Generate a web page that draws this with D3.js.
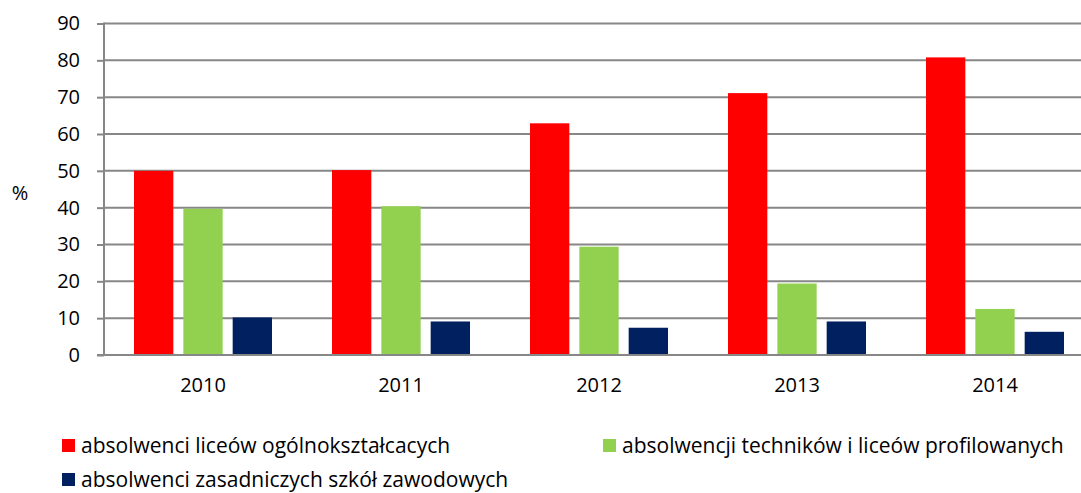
<!DOCTYPE html>
<html>
<head>
<meta charset="utf-8">
<script src="https://cdn.jsdelivr.net/npm/d3@7"></script>
<style>
  html, body { margin: 0; padding: 0; background: #fff; }
  svg { display: block; }
  text { font-family: "Open Sans", sans-serif; fill: #000; }
</style>
</head>
<body>
<svg id="chart" width="1081" height="493"></svg>
<script>
const years = ["2010", "2011", "2012", "2013", "2014"];
const seriesNames = [
  "absolwenci liceów ogólnokształcacych",
  "absolwencji techników i liceów profilowanych",
  "absolwenci zasadniczych szkół zawodowych"
];
const liceaValues = [50.0, 50.2, 62.9, 71.1, 80.8];
const technikaValues = [39.7, 40.4, 29.4, 19.4, 12.5];
const zawodoweValues = [10.2, 9.1, 7.4, 9.1, 6.3];
const yTicks = [0, 10, 20, 30, 40, 50, 60, 70, 80, 90];
const yLabel = "%";

const colors = ["#FF0000", "#92D050", "#002060"];
const seriesValues = [liceaValues, technikaValues, zawodoweValues];

const svg = d3.select("#chart");
const mLeft = 104, mRight = 1094, mTop = 23.5, mBottom = 355;
const axisFont = 20, legendFont = 21;

const x0 = d3.scaleBand().domain(years).range([mLeft, mRight]).padding(0);
const x1 = d3.scaleBand().domain(d3.range(seriesNames.length))
  .range([30, 168]).paddingInner(0.203).paddingOuter(0);
const y = d3.scaleLinear().domain([0, 90]).range([mBottom, mTop]);

// ticks + labels
const yAxis = d3.axisLeft(y).tickValues(yTicks).tickSize(7).tickPadding(17);
const gy = svg.append("g").attr("transform", `translate(${mLeft},0)`).call(yAxis);
gy.select(".domain").remove();
gy.selectAll(".tick line").attr("stroke", "#878787").attr("stroke-width", 2);
gy.selectAll(".tick text").attr("font-size", axisFont).attr("fill", "#000")
  .attr("font-family", "'Open Sans', sans-serif");

// gridlines
svg.append("g").selectAll("line").data(yTicks).join("line")
  .attr("x1", mLeft).attr("x2", mRight)
  .attr("y1", d => y(d)).attr("y2", d => y(d))
  .attr("stroke", "#878787").attr("stroke-width", 2);

// y axis line
svg.append("line").attr("x1", mLeft).attr("x2", mLeft)
  .attr("y1", y(90) - 1).attr("y2", y(0) + 1)
  .attr("stroke", "#878787").attr("stroke-width", 2);

// bars
const groups = svg.append("g").selectAll("g").data(years).join("g")
  .attr("transform", d => `translate(${x0(d)},0)`);
groups.selectAll("rect")
  .data((yr, i) => seriesValues.map((vals, s) => ({ s, v: vals[i] })))
  .join("rect")
  .attr("x", d => x1(d.s))
  .attr("width", x1.bandwidth())
  .attr("y", d => y(d.v))
  .attr("height", d => y(0) - y(d.v) - 1)
  .attr("fill", d => colors[d.s]);

// x axis line on top
svg.append("line").attr("x1", mLeft - 7).attr("x2", mRight)
  .attr("y1", y(0)).attr("y2", y(0))
  .attr("stroke", "#878787").attr("stroke-width", 2);

// x labels
const xAxis = d3.axisBottom(x0).tickSize(0).tickPadding(23);
const gx = svg.append("g").attr("transform", `translate(0,${mBottom})`).call(xAxis);
gx.select(".domain").remove();
gx.selectAll(".tick text").attr("font-size", axisFont).attr("fill", "#000")
  .attr("font-family", "'Open Sans', sans-serif");

// y label
svg.append("text").attr("x", 20).attr("y", 200)
  .attr("text-anchor", "middle").attr("font-size", axisFont).text(yLabel);

// legend
const legendPos = [[62, 439], [603, 439], [62, 473]];
const lg = svg.append("g").selectAll("g").data(seriesNames).join("g")
  .attr("transform", (d, i) => `translate(${legendPos[i][0]},${legendPos[i][1]})`);
lg.append("rect").attr("width", 13).attr("height", 13).attr("fill", (d, i) => colors[i]);
lg.append("text").attr("x", 19).attr("y", 13.5).attr("font-size", legendFont).text(d => d);
</script>
</body>
</html>
